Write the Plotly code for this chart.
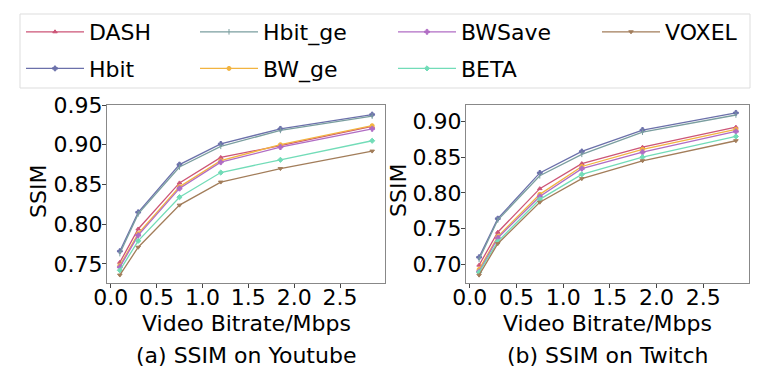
import plotly.graph_objects as go

bitrate = [0.1, 0.3, 0.75, 1.2, 1.85, 2.85]
methods = ["DASH", "Hbit", "Hbit_ge", "BW_ge", "BWSave", "BETA", "VOXEL"]

youtube = {
    "DASH":    [0.752, 0.794, 0.852, 0.884, 0.899, 0.923],
    "Hbit":    [0.766, 0.815, 0.875, 0.901, 0.920, 0.938],
    "Hbit_ge": [0.763, 0.813, 0.872, 0.898, 0.918, 0.936],
    "BW_ge":   [0.748, 0.788, 0.847, 0.880, 0.900, 0.924],
    "BWSave":  [0.746, 0.786, 0.845, 0.878, 0.897, 0.920],
    "BETA":    [0.742, 0.779, 0.834, 0.865, 0.881, 0.905],
    "VOXEL":   [0.736, 0.771, 0.824, 0.853, 0.870, 0.892],
}
twitch = {
    "DASH":    [0.699, 0.745, 0.806, 0.841, 0.864, 0.892],
    "Hbit":    [0.710, 0.764, 0.828, 0.858, 0.888, 0.912],
    "Hbit_ge": [0.707, 0.762, 0.824, 0.854, 0.885, 0.909],
    "BW_ge":   [0.693, 0.739, 0.798, 0.837, 0.861, 0.889],
    "BWSave":  [0.690, 0.737, 0.795, 0.834, 0.857, 0.886],
    "BETA":    [0.689, 0.732, 0.791, 0.826, 0.850, 0.879],
    "VOXEL":   [0.685, 0.729, 0.787, 0.820, 0.845, 0.873],
}

colors = {
    "DASH": "#cc5577", "Hbit": "#6b70aa", "Hbit_ge": "#7a9e9f", "BW_ge": "#f2b440",
    "BWSave": "#b06cc4", "BETA": "#72dcb8", "VOXEL": "#a27d5a",
}
symbols = {
    "DASH": "triangle-up", "Hbit": "cross", "Hbit_ge": "line-ns", "BW_ge": "circle",
    "BWSave": "cross", "BETA": "diamond", "VOXEL": "triangle-down",
}
legend_of = {
    "DASH": "legend", "Hbit": "legend", "Hbit_ge": "legend2", "BW_ge": "legend2",
    "BWSave": "legend3", "BETA": "legend3", "VOXEL": "legend4",
}

# the page body adds an 8px offset; the figure fills the rest of the 760x375 window
OFF = 8
W, H = 760 - OFF, 375 - OFF
FONT = "DejaVu Sans"

fig = go.Figure()
for m in methods:
    fig.add_trace(go.Scatter(
        x=bitrate, y=youtube[m], mode="lines+markers", name=m,
        line=dict(color=colors[m], width=1.3),
        marker=dict(symbol=symbols[m], size=4, color=colors[m], line=dict(color=colors[m], width=1)),
        xaxis="x", yaxis="y", legend=legend_of[m], legendgroup=m,
    ))
for m in methods:
    fig.add_trace(go.Scatter(
        x=bitrate, y=twitch[m], mode="lines+markers", name=m, showlegend=False,
        line=dict(color=colors[m], width=1.3),
        marker=dict(symbol=symbols[m], size=4, color=colors[m], line=dict(color=colors[m], width=1)),
        xaxis="x2", yaxis="y2", legendgroup=m,
    ))

def px(x):
    return (x - OFF) / W

def py(y):
    return 1 - (y - OFF) / H

axis_common = dict(
    showline=True, linecolor="#888888", linewidth=1, mirror=True,
    ticks="outside", ticklen=4, tickcolor="#444444", showgrid=False, zeroline=False,
    tickfont=dict(family=FONT, size=22, color="black"), automargin=False,
)
xcommon = dict(range=[-0.04, 2.99], tickvals=[0, 0.5, 1, 1.5, 2, 2.5], tickformat=".1f",
               ticklabelstandoff=-9, **axis_common)
ycommon = dict(tickformat=".2f", ticklabelstandoff=-5, **axis_common)

fig.update_layout(
    width=W, height=H,
    margin=dict(l=0, r=0, t=0, b=0, autoexpand=False),
    paper_bgcolor="white", plot_bgcolor="white",
    font=dict(family=FONT, size=22, color="black"),
    xaxis=dict(domain=[px(107), px(385)], anchor="y", **xcommon),
    yaxis=dict(domain=[py(283), py(105)], range=[0.726, 0.950],
               tickvals=[0.75, 0.80, 0.85, 0.90, 0.95], anchor="x", **ycommon),
    xaxis2=dict(domain=[px(466), px(749)], anchor="y2", **xcommon),
    yaxis2=dict(domain=[py(283), py(105)], range=[0.674, 0.923],
                tickvals=[0.70, 0.75, 0.80, 0.85, 0.90], anchor="x2", **ycommon),
)

leg_common = dict(
    orientation="v", xanchor="left", yanchor="top", bgcolor="rgba(0,0,0,0)",
    borderwidth=0, font=dict(family=FONT, size=22, color="black"),
    itemwidth=58, tracegroupgap=5,
)
fig.update_layout(
    legend=dict(x=px(21), y=py(11), **leg_common),
    legend2=dict(x=px(195), y=py(11), **leg_common),
    legend3=dict(x=px(393), y=py(11), **leg_common),
    legend4=dict(x=px(597), y=py(11), **leg_common),
)

fig.add_shape(type="rect", xref="paper", yref="paper",
              x0=px(20), x1=px(750), y0=py(88), y1=py(14),
              line=dict(color="#dddddd", width=1), fillcolor="rgba(0,0,0,0)", layer="below")

annots = [
    (246, 323, "Video Bitrate/Mbps"),
    (246, 355, "(a) SSIM on Youtube"),
    (607, 323, "Video Bitrate/Mbps"),
    (607, 355, "(b) SSIM on Twitch"),
]
for x, y, t in annots:
    fig.add_annotation(x=px(x), y=py(y), xref="paper", yref="paper", text=t,
                       showarrow=False, xanchor="center", yanchor="middle",
                       font=dict(family=FONT, size=22, color="black"))
for x, t in [(39, "SSIM"), (399, "SSIM")]:
    fig.add_annotation(x=px(x), y=py(191), xref="paper", yref="paper", text=t,
                       showarrow=False, xanchor="center", yanchor="middle", textangle=-90,
                       font=dict(family=FONT, size=22, color="black"))

fig.write_html("out.html")
